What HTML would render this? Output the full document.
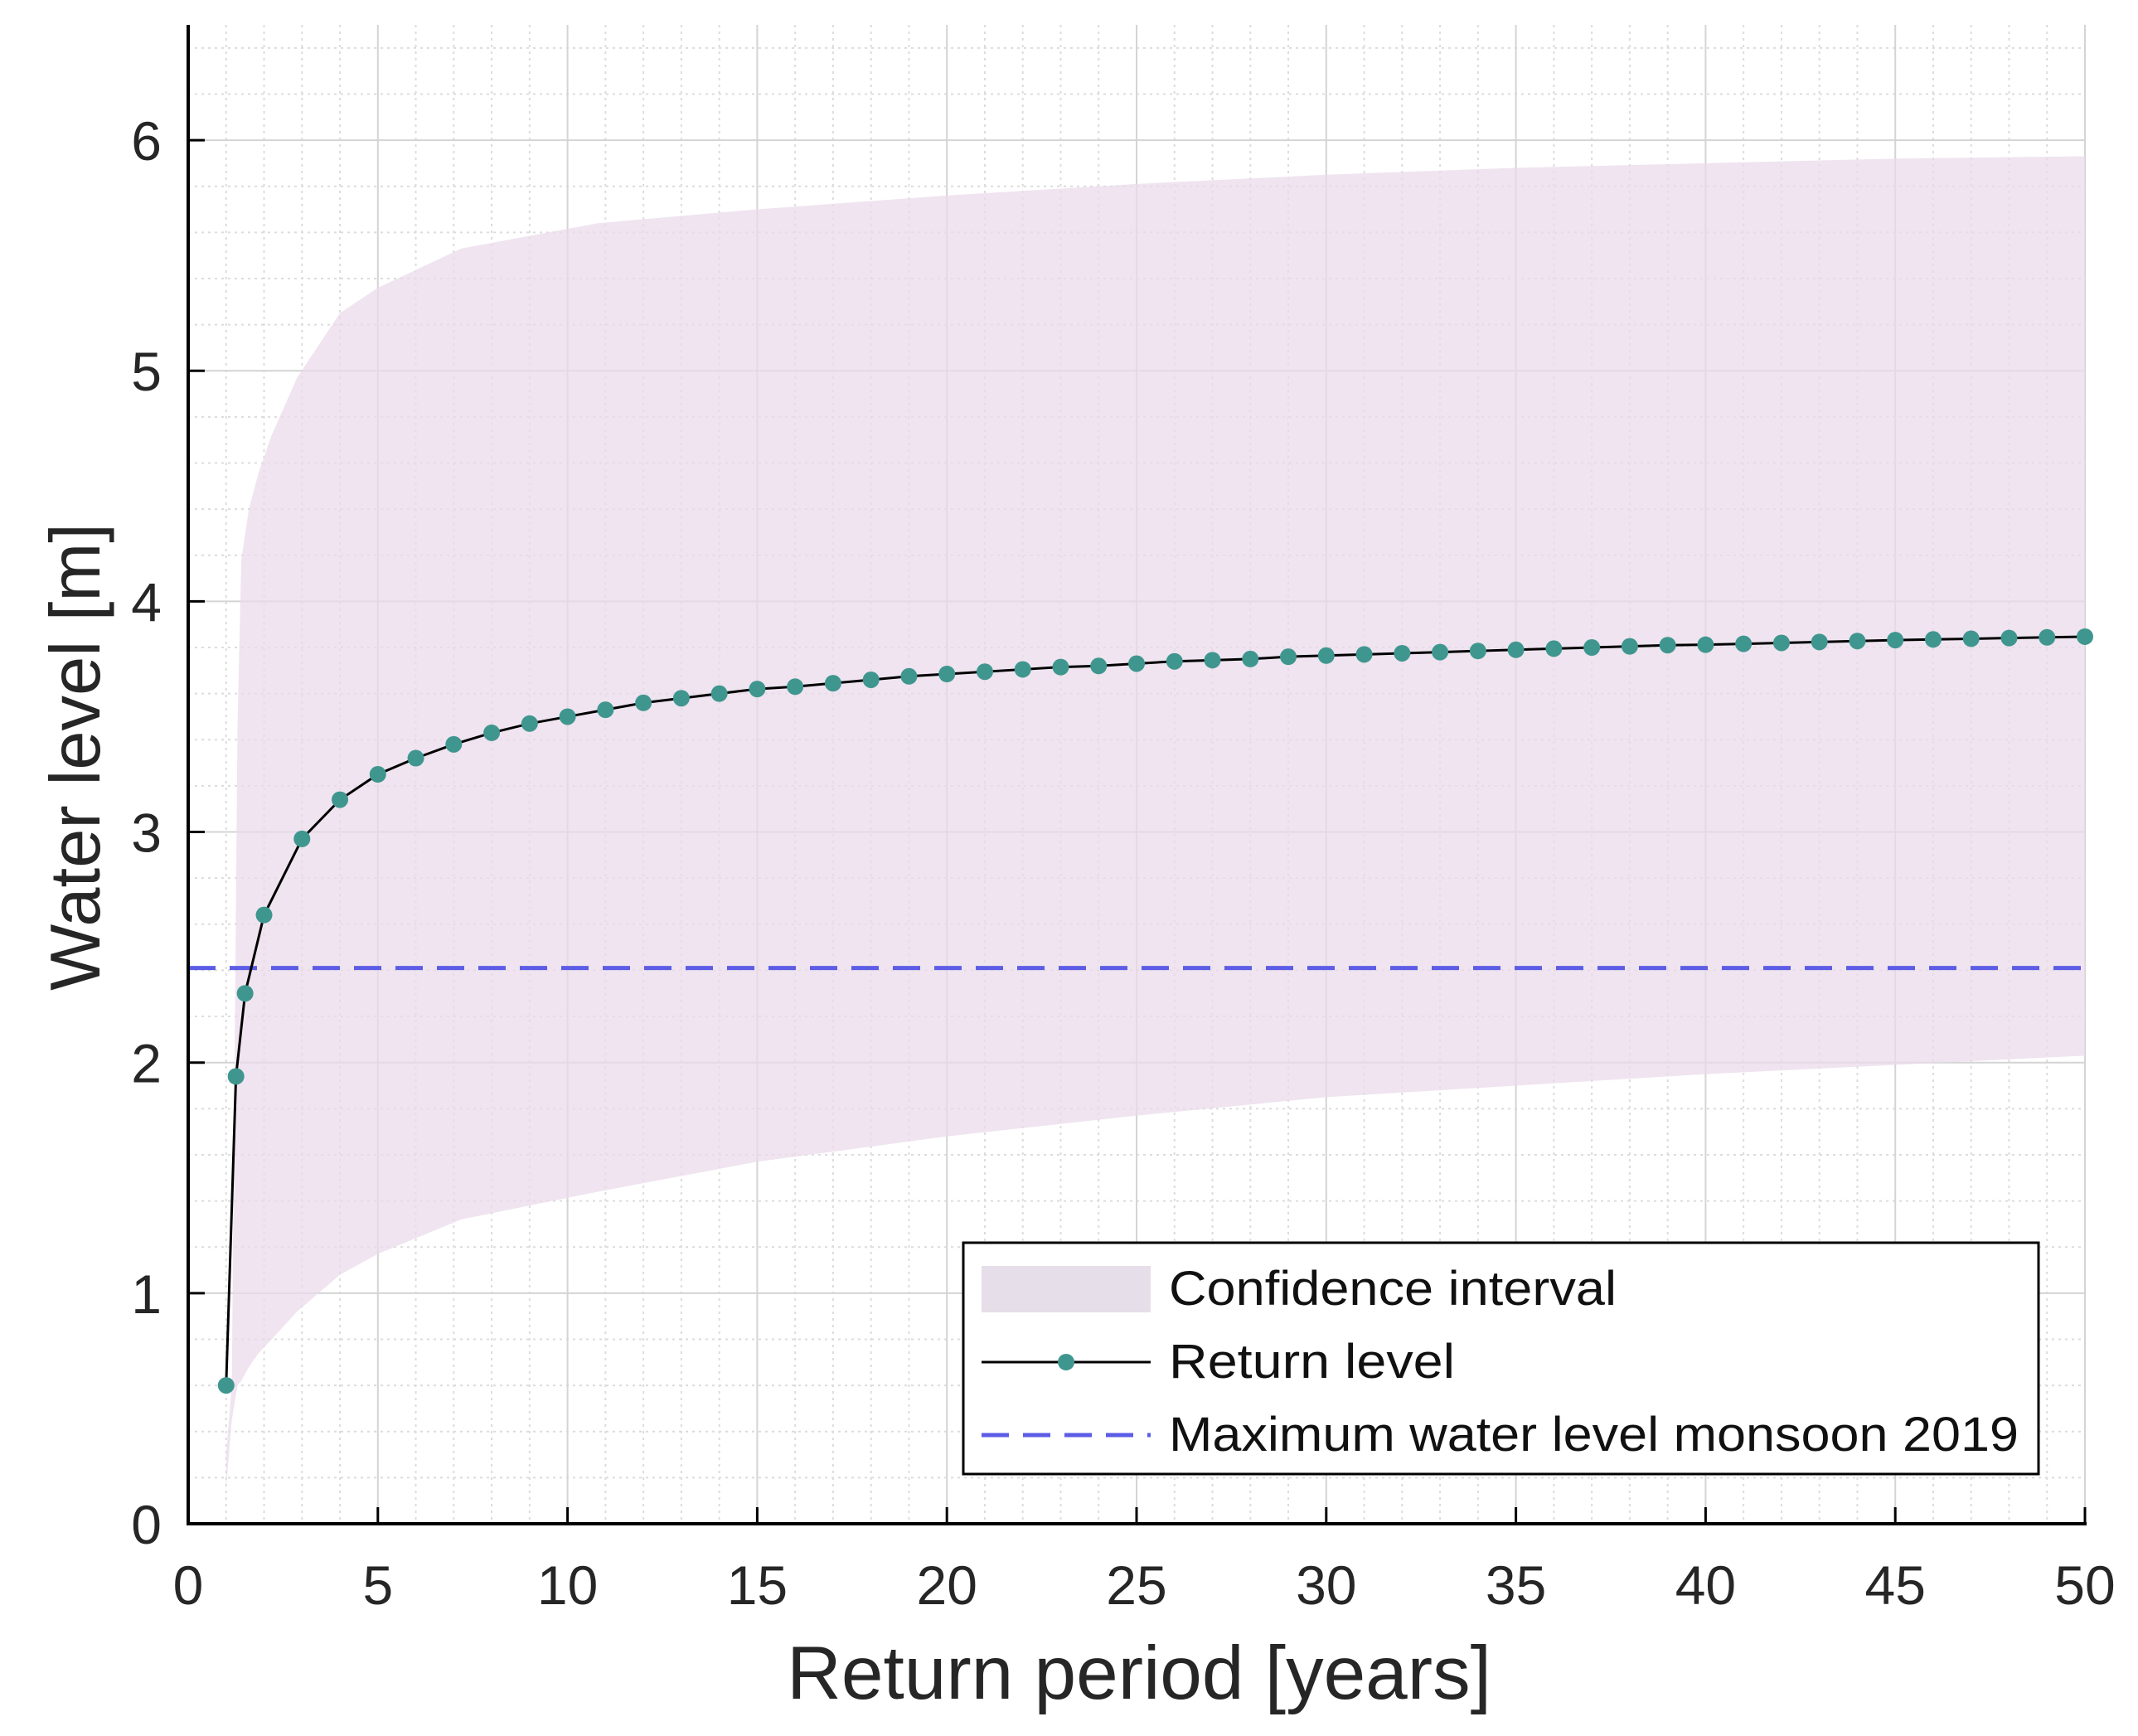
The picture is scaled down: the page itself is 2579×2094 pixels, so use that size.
<!DOCTYPE html>
<html><head><meta charset="utf-8">
<style>
html,body{margin:0;padding:0;background:#fff;}
svg{display:block;font-family:"Liberation Sans",sans-serif;}
</style></head>
<body>
<svg id="chart" width="2579" height="2094" viewBox="0 0 2579 2094" xmlns="http://www.w3.org/2000/svg">
<rect width="2579" height="2094" fill="#fff"/>
<g id="grid"></g>
<g id="band"></g>
<g id="series"></g>
<g id="axes"></g>
<text x="1374" y="2049" font-size="91" text-anchor="middle" fill="#262626">Return period [years]</text>
<text transform="translate(120,913) rotate(-90)" font-size="85" text-anchor="middle" fill="#262626">Water level [m]</text>
<g>
<rect x="1162" y="1499" width="1297" height="279" fill="#fff" stroke="#000" stroke-width="3"/>
<rect x="1184" y="1527" width="204" height="56" fill="#e6dee8"/>
<text x="1410" y="1574" font-size="58" fill="#111" textLength="540" lengthAdjust="spacingAndGlyphs">Confidence interval</text>
<line x1="1184" y1="1643" x2="1388" y2="1643" stroke="#000" stroke-width="3"/>
<circle cx="1286" cy="1643" r="10" fill="#3f968f"/>
<text x="1410" y="1662" font-size="58" fill="#111" textLength="345" lengthAdjust="spacingAndGlyphs">Return level</text>
<line x1="1184" y1="1731" x2="1388" y2="1731" stroke="#5c5ce6" stroke-width="5" stroke-dasharray="33 17"/>
<text x="1410" y="1750" font-size="58" fill="#111" textLength="1025" lengthAdjust="spacingAndGlyphs">Maximum water level monsoon 2019</text>
</g>
</svg>
<script>
const xTicks = [0,5,10,15,20,25,30,35,40,45,50];
const yTicks = [0,1,2,3,4,5,6];
const rpX = [1,1.26,1.5,2,3,4,5,6,7,8,9,10,11,12,13,14,15,16,17,18,19,20,21,22,23,24,25,26,27,28,29,30,31,32,33,34,35,36,37,38,39,40,41,42,43,44,45,46,47,48,49,50];
const rpY = [0.6,1.94,2.3,2.64,2.97,3.14,3.25,3.32,3.38,3.43,3.47,3.5,3.53,3.56,3.58,3.6,3.62,3.63,3.645,3.66,3.675,3.685,3.695,3.705,3.715,3.72,3.73,3.74,3.745,3.75,3.76,3.765,3.77,3.775,3.78,3.785,3.79,3.795,3.8,3.805,3.81,3.812,3.816,3.82,3.824,3.828,3.832,3.835,3.838,3.841,3.844,3.847];
const ciX = [1,1.15,1.3,1.4,1.6,1.86,2.2,2.87,4,5,7.2,10.8,15,20,25,30,35,40,45,50];
const ciLow = [0.15,0.45,0.6,0.62,0.68,0.74,0.8,0.92,1.08,1.17,1.32,1.44,1.57,1.68,1.77,1.85,1.9,1.95,1.99,2.03];
const ciUp = [0.3,0.6,3.45,4.18,4.4,4.56,4.72,4.97,5.25,5.36,5.53,5.64,5.7,5.76,5.81,5.85,5.88,5.9,5.92,5.93];
const maxLevel = [2.41];

const L=227,R=2515,T=30,B=1838,XMAX=50,YMAX=6.5;
const sx=v=>L+(R-L)*v/XMAX;
const sy=v=>B-(B-T)*v/YMAX;
const NS="http://www.w3.org/2000/svg";
function mk(tag,attrs,parent){const e=document.createElementNS(NS,tag);for(const k in attrs)e.setAttribute(k,attrs[k]);parent.appendChild(e);return e;}
const grid=document.getElementById('grid');
for(let i=1;i<50;i++){if(i%5===0)continue;
 const l=mk('line',{x1:sx(i),x2:sx(i),y1:T,y2:B,stroke:'#dcdcdc','stroke-width':2,'stroke-dasharray':'3 5'},grid);
 
 }
for(let j=1;j<33;j++){const v=j*0.2;if(Math.abs(v-Math.round(v))<1e-6)continue;
 const l=mk('line',{x1:L,x2:R,y1:sy(v),y2:sy(v),stroke:'#dcdcdc','stroke-width':2,'stroke-dasharray':'3 5'},grid);
 
 }
xTicks.forEach(t=>{if(t===0)return;
 const l=mk('line',{x1:sx(t),x2:sx(t),y1:T,y2:B,stroke:'#d4d4d4','stroke-width':2},grid);
 
 });
yTicks.forEach(t=>{if(t===0)return;
 const l=mk('line',{x1:L,x2:R,y1:sy(t),y2:sy(t),stroke:'#d4d4d4','stroke-width':2},grid);
 
 });
let d='M'+ciX.map((x,i)=>sx(x)+','+sy(ciUp[i])).join('L');
for(let i=ciX.length-1;i>=0;i--)d+='L'+sx(ciX[i])+','+sy(ciLow[i]);
const band=mk('path',{d:d+'Z',fill:'#e9dbea','fill-opacity':0.75},document.getElementById('band'));


const ser=document.getElementById('series');
const ml=mk('line',{x1:L,x2:R,y1:sy(maxLevel[0]),y2:sy(maxLevel[0]),stroke:'#5c5ce6','stroke-width':5,'stroke-dasharray':'33 17'},ser);


const rl=mk('polyline',{points:rpX.map((x,i)=>sx(x)+','+sy(rpY[i])).join(' '),fill:'none',stroke:'#000','stroke-width':3},ser);


rpX.forEach((x,i)=>{const c=mk('circle',{cx:sx(x),cy:sy(rpY[i]),r:10,fill:'#3f968f'},ser);
 
 });
const ax=document.getElementById('axes');
mk('line',{x1:L,x2:L,y1:T,y2:B+1.5,stroke:'#000','stroke-width':4},ax);
mk('line',{x1:L-2,x2:R+2,y1:B,y2:B,stroke:'#000','stroke-width':4},ax);
xTicks.forEach(t=>{mk('line',{x1:sx(t),x2:sx(t),y1:B,y2:B-20,stroke:'#000','stroke-width':3},ax);
 const tx=mk('text',{x:sx(t),y:1935,'font-size':66,'text-anchor':'middle',fill:'#262626'},ax);tx.textContent=t;
 
 });
yTicks.forEach(t=>{mk('line',{x1:L,x2:L+20,y1:sy(t),y2:sy(t),stroke:'#000','stroke-width':3},ax);
 const tx=mk('text',{x:195,y:sy(t)+24,'font-size':66,'text-anchor':'end',fill:'#262626'},ax);tx.textContent=t;
 
 });
</script>
</body></html>
